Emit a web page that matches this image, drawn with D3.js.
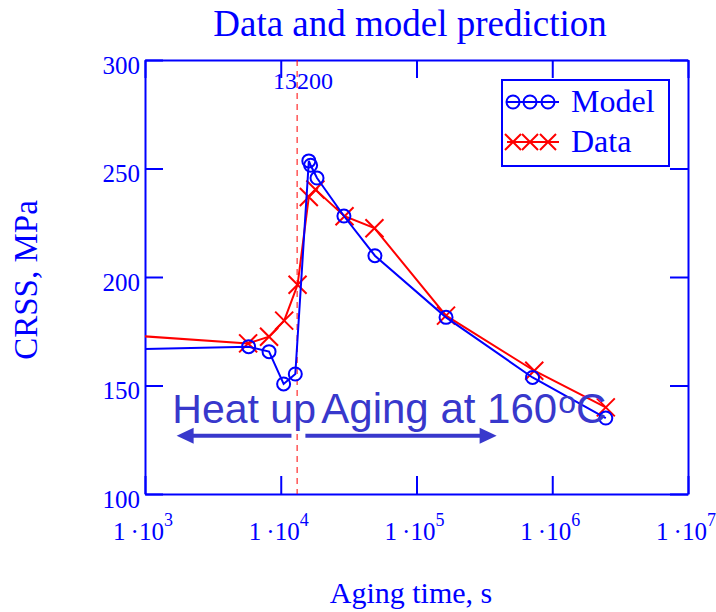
<!DOCTYPE html>
<html>
<head>
<meta charset="utf-8" />
<title>Data and model prediction</title>
<script src="https://cdnjs.cloudflare.com/ajax/libs/d3/7.8.5/d3.min.js"></script>
<style>
body { margin: 0; background: #fff; }
svg text { font-family: "Liberation Serif", "Times New Roman", serif; fill: #0000ff; }
</style>
</head>
<body>
<svg id="chart" width="716" height="612"></svg>
<script>
// model curve (aging time in s, CRSS in MPa)
const modelTime = [100, 5800, 8200, 10500, 12800, 16100, 16600, 18500, 29200, 49400, 165000, 716000, 2480000];
const modelCrss = [165.5, 167.9, 165.6, 150.7, 155.3, 253.5, 251.5, 245.6, 228.1, 209.8, 181.4, 153.7, 135.0];

// measured data
const dataTime = [100, 5750, 8200, 10600, 13300, 16100, 18000, 29500, 49000, 165000, 737000, 2480000];
const dataCrss = [176.9, 169.4, 172.5, 179.9, 196.4, 236.9, 240.3, 228.0, 222.5, 182.2, 156.8, 139.9];

const xTicks = [1e3, 1e4, 1e5, 1e6, 1e7];
const xTickExp = ["3", "4", "5", "6", "7"];
const yTicks = [100, 150, 200, 250, 300];
const markerTime = 13200;

const blue = "#0000ff", red = "#ff0000", note = "#3838cc";

let svg = d3.select("#chart");
let x = d3.scaleLog().domain([1e3, 1e7]).range([145, 688]);
let y = d3.scaleLinear().domain([100, 300]).range([494, 60]);

// title and axis labels
svg.append("text").attr("x", 410).attr("y", 36).attr("text-anchor", "middle")
	.style("font-size", "37px").text("Data and model prediction");
svg.append("text").attr("x", 411).attr("y", 603).attr("text-anchor", "middle")
	.style("font-size", "30px").text("Aging time, s");
svg.append("text").attr("transform", "translate(37,280) rotate(-90)").attr("text-anchor", "middle")
	.style("font-size", "33px").text("CRSS, MPa");

svg.append("clipPath").attr("id", "plotclip").append("rect")
	.attr("x", 145).attr("y", 60).attr("width", 543).attr("height", 434);

// axes, ticks pointing inward
function styleAxis(g) {
	g.selectAll("path, line").attr("stroke", blue).attr("stroke-width", 2);
}
svg.append("g").attr("transform", "translate(145,0)")
	.call(d3.axisLeft(y).tickValues(yTicks).tickSizeInner(-18).tickSizeOuter(0).tickPadding(5))
	.call(styleAxis)
	.call(g => g.selectAll("text").attr("dy", 13).attr("fill", blue)
		.style("font-family", "Liberation Serif").style("font-size", "25px"));
svg.append("g").attr("transform", "translate(688,0)")
	.call(d3.axisRight(y).tickValues(yTicks).tickSizeInner(-18).tickSizeOuter(0).tickFormat(""))
	.call(styleAxis);
svg.append("g").attr("transform", "translate(0,60)")
	.call(d3.axisTop(x).tickValues(xTicks).tickSizeInner(-18).tickSizeOuter(0).tickFormat(""))
	.call(styleAxis);
svg.append("g").attr("transform", "translate(0,494)")
	.call(d3.axisBottom(x).tickValues(xTicks).tickSizeInner(-18).tickSizeOuter(0).tickFormat(""))
	.call(styleAxis);

// x tick labels 1·10^n
let xl = svg.append("g").selectAll("text").data(xTicks).enter().append("text")
	.attr("x", d => x(d) - 2).attr("y", 540).attr("text-anchor", "middle").style("font-size", "25px");
xl.append("tspan").text("1\u2009\u00b710");
xl.append("tspan").attr("dy", -14).style("font-size", "18px").text((d, i) => xTickExp[i]);

// dashed marker at 13200 s
svg.append("line").attr("x1", x(markerTime)).attr("x2", x(markerTime)).attr("y1", 60).attr("y2", 494)
	.attr("stroke", red).attr("stroke-width", 1).attr("stroke-dasharray", "6,5");
svg.append("text").attr("x", x(markerTime) + 6).attr("y", 89).attr("text-anchor", "middle")
	.style("font-size", "24px").text("13200");

// series
let plot = svg.append("g").attr("clip-path", "url(#plotclip)");
let line = d3.line().x(d => x(d[0])).y(d => y(d[1]));
let model = modelTime.map((t, i) => [t, modelCrss[i]]);
let meas = dataTime.map((t, i) => [t, dataCrss[i]]);

function drawX(g, cx, cy, r) {
	g.append("path")
		.attr("d", `M${cx - r},${cy - r}L${cx + r},${cy + r}M${cx - r},${cy + r}L${cx + r},${cy - r}`)
		.attr("stroke", red).attr("stroke-width", 2).attr("fill", "none");
}

plot.append("path").datum(meas).attr("d", line).attr("fill", "none").attr("stroke", red).attr("stroke-width", 2);
meas.forEach(d => drawX(plot, x(d[0]), y(d[1]), 9));
plot.append("path").datum(model).attr("d", line).attr("fill", "none").attr("stroke", blue).attr("stroke-width", 2);
plot.selectAll("circle").data(model).enter().append("circle")
	.attr("cx", d => x(d[0])).attr("cy", d => y(d[1])).attr("r", 6.5)
	.attr("fill", "none").attr("stroke", blue).attr("stroke-width", 2);

// annotations: heat up / aging at 160°C
let ann = svg.append("g");
ann.append("text").attr("x", x(1590)).attr("y", y(132.7)).style("font-size", "41px")
	.style("font-family", "Liberation Sans").style("fill", note).text("Heat up");
let aging = ann.append("text").attr("x", x(19900)).attr("y", y(132.7)).style("font-size", "42px")
	.style("font-family", "Liberation Sans").style("fill", note);
aging.append("tspan").text("Aging at 160");
aging.append("tspan").attr("dx", 1).attr("dy", -10).style("font-size", "32px").text("o");
aging.append("tspan").attr("dy", 10).text("C");

function arrow(t0, t1, v) {
	let x0 = x(t0), x1 = x(t1), yy = y(v);
	let dir = x1 > x0 ? 1 : -1;
	ann.append("line").attr("x1", x0).attr("x2", x1 - dir * 14).attr("y1", yy).attr("y2", yy)
		.attr("stroke", note).attr("stroke-width", 4);
	ann.append("path").attr("d", `M${x1},${yy}L${x1 - dir * 17},${yy - 8}L${x1 - dir * 17},${yy + 8}Z`)
		.attr("fill", note);
}
arrow(11990, 1710, 126.8);
arrow(15190, 389400, 126.8);

// legend
let leg = svg.append("g");
leg.append("rect").attr("x", 502).attr("y", 80).attr("width", 167).attr("height", 86)
	.attr("fill", "#fff").attr("stroke", blue).attr("stroke-width", 2);
leg.append("line").attr("x1", 507).attr("x2", 559).attr("y1", 102).attr("y2", 102).attr("stroke", blue).attr("stroke-width", 2);
[513, 530, 548].forEach(cx => leg.append("circle").attr("cx", cx).attr("cy", 102).attr("r", 6.5)
	.attr("fill", "none").attr("stroke", blue).attr("stroke-width", 2));
leg.append("line").attr("x1", 507).attr("x2", 559).attr("y1", 142).attr("y2", 142).attr("stroke", red).attr("stroke-width", 2);
[513, 530, 548].forEach(cx => drawX(leg, cx, 142, 8));
leg.append("text").attr("x", 571).attr("y", 112).style("font-size", "32px").text("Model");
leg.append("text").attr("x", 571).attr("y", 152).style("font-size", "32px").text("Data");
</script>
</body>
</html>
